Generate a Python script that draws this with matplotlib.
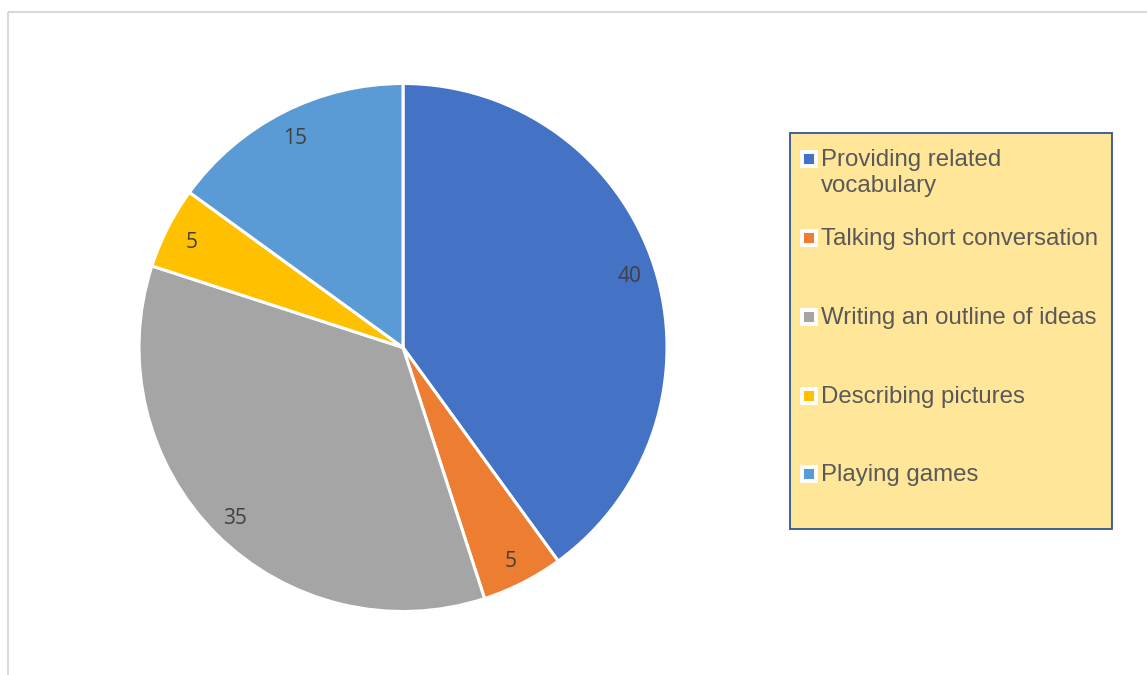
import matplotlib.pyplot as plt
from matplotlib.lines import Line2D
from matplotlib.patches import Rectangle

# activities and how many times each was reported
activities = ['Providing related\nvocabulary', 'Talking short conversation',
              'Writing an outline of ideas', 'Describing pictures', 'Playing games']
counts = [40, 5, 35, 5, 15]
colors = ['#4472C4', '#ED7D31', '#A5A5A5', '#FFC000', '#5B9BD5']

W, H = 1147, 675
fig = plt.figure(figsize=(W / 100, H / 100), dpi=100)

# pixel overlay for the chart frame and the legend
bg = fig.add_axes([0, 0, 1, 1])
bg.set_xlim(0, W)
bg.set_ylim(H, 0)
bg.axis('off')
bg.add_patch(Rectangle((8, 12), W + 20, H + 20, fill=False, edgecolor='#D9D9D9', lw=1.5))

# pie, centre (403, 347) px, radius 264 px
cx, cy, r = 403, 347.5, 264
ax = fig.add_axes([(cx - r) / W, (H - cy - r) / H, 2 * r / W, 2 * r / H])
wedges, texts = ax.pie(counts, colors=colors, startangle=90, counterclock=False,
                       labels=[str(c) for c in counts], labeldistance=0.9,
                       wedgeprops=dict(edgecolor='white', linewidth=2.2),
                       textprops=dict(fontsize=15, color='#404040', family='Open Sans'))
for t in texts:
    t.set_horizontalalignment('center')
    t.set_verticalalignment('center_baseline')
ax.set_xlim(-1, 1)
ax.set_ylim(-1, 1)
ax.set_aspect('equal')

# legend box
bg.add_patch(Rectangle((790, 133), 322, 396, facecolor='#FFE699', edgecolor='#2F5597', lw=1.3))
baselines = [166, 245, 324, 403, 481]
for label, color, y in zip(activities, colors, baselines):
    bg.add_line(Line2D([808.5], [y - 7], marker='s', markersize=9.5, markerfacecolor=color,
                       markeredgecolor='white', markeredgewidth=2.8, linestyle='none'))
    for j, line in enumerate(label.split('\n')):
        bg.text(821, y + 26 * j, line, fontsize=17.3, color='#595959',
                family='Liberation Sans', va='baseline', ha='left')

fig.savefig('out.png', dpi=100)
